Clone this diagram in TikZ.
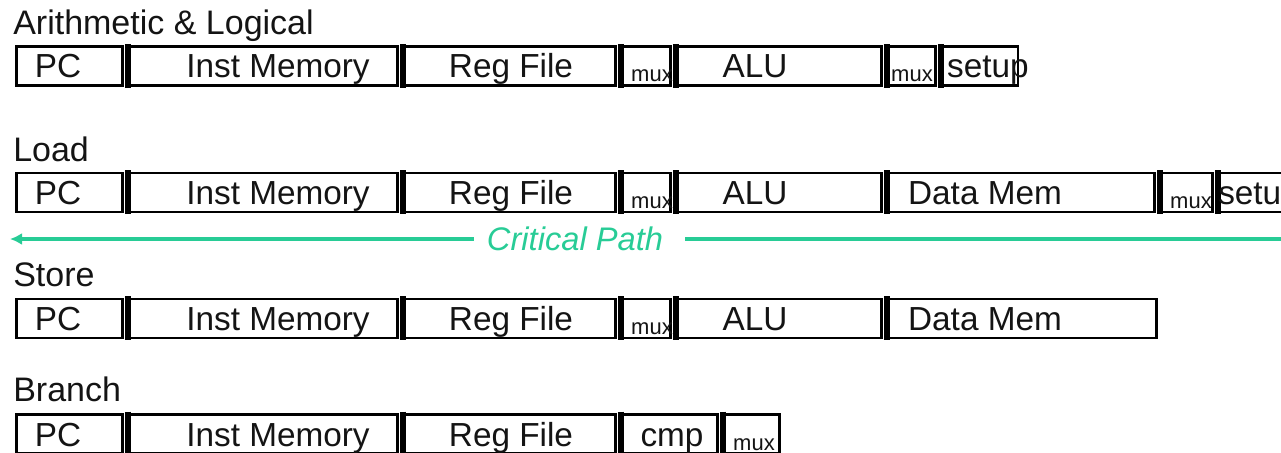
\documentclass[tikz,border=0pt]{standalone}
\usepackage{fontspec}
\setmainfont{Liberation Sans}
\usetikzlibrary{arrows.meta}
\definecolor{critgreen}{RGB}{40,204,150}
\definecolor{inkblack}{RGB}{20,20,20}

\tikzset{
  stagebox/.style={draw=black, line width=1.9pt, anchor=north west, inner sep=0pt,
                   minimum height=29.25pt},
  sepbar/.style={draw=black, line width=4.5pt, shorten <=-0.95pt, shorten >=-0.95pt},
  lbl/.style={font=\fontsize{25}{30}\selectfont, text=inkblack, anchor=base, inner sep=0pt},
  smalllbl/.style={font=\fontsize{16.5}{20}\selectfont, text=inkblack, anchor=base, inner sep=0pt},
  rowtitle/.style={font=\fontsize{25.5}{30}\selectfont, text=inkblack, anchor=base west, inner sep=0pt},
  critline/.style={draw=critgreen, line width=2.5pt},
  critlbl/.style={font=\fontsize{24.5}{30}\selectfont\itshape, text=critgreen, anchor=base, inner sep=0pt},
}

% one stage of a datapath row: name, left edge, next left edge, top edge
\newcommand{\stg}[4]{%
  \node[stagebox, minimum width={(#3-#2-4)*0.75pt}] (#1) at (#2,#4) {};}
% heavy divider on the left side of a stage
\newcommand{\divider}[1]{%
  \draw[sepbar] ([xshift=2.25pt]#1.north west) -- ([xshift=2.25pt]#1.south west);}

\begin{document}
\begin{tikzpicture}[x=0.75pt, y=-0.75pt]
\useasboundingbox (0,0) rectangle (1281,453);
\clip (0,0) rectangle (1281,453);

% ---------------- Arithmetic & Logical ----------------
\node[rowtitle] (tA) at (13,35) {Arithmetic \& Logical};
\stg{a1}{15}{125}{45.5}
\stg{a2}{125}{400}{45.5}
\stg{a3}{400}{618}{45.5}
\stg{a4}{618}{673}{45.5}
\stg{a5}{673}{884}{45.5}
\stg{a6}{884}{938}{45.5}
\stg{a7}{938}{1020.5}{45.5}
\foreach \n in {a2,a3,a4,a5,a6,a7} {\divider{\n}}
\node[lbl] (la1) at (58,78) {PC};
\node[lbl] (la2) at (278,78) {Inst Memory};
\node[lbl] (la3) at (511,78) {Reg File};
\node[smalllbl] (la4) at (652,82) {mux};
\node[lbl] (la5) at (755,78) {ALU};
\node[smalllbl] (la6) at (912,82) {mux};
\node[lbl] (la7) at (988,78) {setup};

% ---------------- Load ----------------
\node[rowtitle] (tB) at (13,161) {Load};
\stg{b1}{15}{125}{171.5}
\stg{b2}{125}{400}{171.5}
\stg{b3}{400}{618}{171.5}
\stg{b4}{618}{673}{171.5}
\stg{b5}{673}{884}{171.5}
\stg{b6}{884}{1157}{171.5}
\stg{b7}{1157}{1215}{171.5}
\stg{b8}{1215}{1320}{171.5}
\foreach \n in {b2,b3,b4,b5,b6,b7,b8} {\divider{\n}}
\node[lbl] (lb1) at (58,204) {PC};
\node[lbl] (lb2) at (278,204) {Inst Memory};
\node[lbl] (lb3) at (511,204) {Reg File};
\node[smalllbl] (lb4) at (652,208) {mux};
\node[lbl] (lb5) at (755,204) {ALU};
\node[lbl] (lb6) at (985,204) {Data Mem};
\node[smalllbl] (lb7) at (1191,208) {mux};
\node[lbl, anchor=base west] (lb8) at (1218,204) {setup};

% ---------------- Critical Path ----------------
\coordinate (cpl) at (10,239);
\coordinate (cpr) at (1290,239);
\node[critlbl] (cp) at (575,250) {Critical Path};
\path (cp.west) ++(-13,0) coordinate (cpa);
\path (cp.east) ++(22,0) coordinate (cpb);
\draw[critline, -{Latex[length=9pt,width=9pt]}] (cpa |- cpl) -- (cpl);
\draw[critline] (cpb |- cpr) -- (cpr);

% ---------------- Store ----------------
\node[rowtitle] (tC) at (13,286) {Store};
\stg{c1}{15}{125}{297.5}
\stg{c2}{125}{400}{297.5}
\stg{c3}{400}{618}{297.5}
\stg{c4}{618}{673}{297.5}
\stg{c5}{673}{884}{297.5}
\stg{c6}{884}{1159}{297.5}
\foreach \n in {c2,c3,c4,c5,c6} {\divider{\n}}
\node[lbl] (lc1) at (58,330) {PC};
\node[lbl] (lc2) at (278,330) {Inst Memory};
\node[lbl] (lc3) at (511,330) {Reg File};
\node[smalllbl] (lc4) at (652,334) {mux};
\node[lbl] (lc5) at (755,330) {ALU};
\node[lbl] (lc6) at (985,330) {Data Mem};

% ---------------- Branch ----------------
\node[rowtitle] (tD) at (13,401) {Branch};
\stg{d1}{15}{125}{413}
\stg{d2}{125}{400}{413}
\stg{d3}{400}{618}{413}
\stg{d4}{618}{720}{413}
\stg{d5}{720}{782}{413}
\foreach \n in {d2,d3,d4,d5} {\divider{\n}}
\node[lbl] (ld1) at (58,446) {PC};
\node[lbl] (ld2) at (278,446) {Inst Memory};
\node[lbl] (ld3) at (511,446) {Reg File};
\node[lbl] (ld4) at (672,446) {cmp};
\node[smalllbl] (ld5) at (754,450) {mux};
\end{tikzpicture}
\end{document}
